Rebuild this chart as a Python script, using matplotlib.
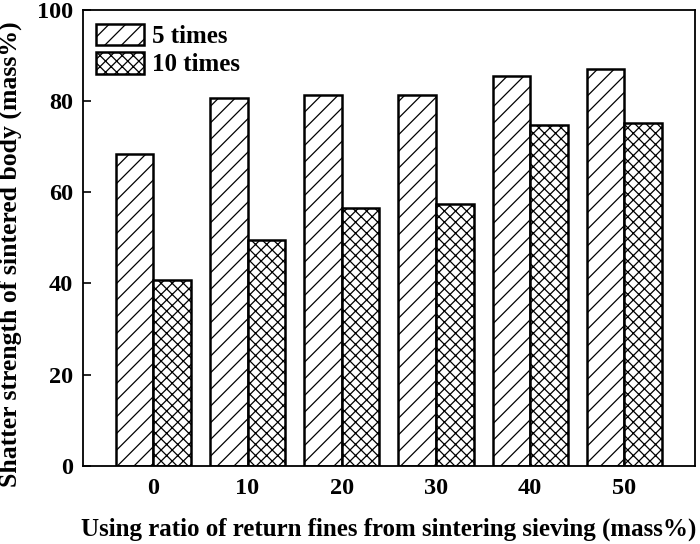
import matplotlib
matplotlib.use("Agg")
import matplotlib.pyplot as plt
import numpy as np

categories = ["0", "10", "20", "30", "40", "50"]
five_times = [68.4, 80.6, 81.3, 81.3, 85.5, 87.0]
ten_times = [40.7, 49.5, 56.6, 57.5, 74.7, 75.3]
series_labels = ["5 times", "10 times"]
yticks = [0, 20, 40, 60, 80, 100]

plt.rcParams['font.family'] = ['Liberation Serif', 'DejaVu Serif']
plt.rcParams['font.weight'] = 'bold'
plt.rcParams['hatch.linewidth'] = 0.9

fig = plt.figure(figsize=(7.0, 5.44), dpi=100)
ax = fig.add_axes([0.118, 0.144, 0.875, 0.8376])

x = np.arange(len(categories))
w = 0.4
ax.bar(x - w/2, five_times, width=w, facecolor='white', edgecolor='black',
       linewidth=1.8, hatch='//', label=series_labels[0])
ax.bar(x + w/2, ten_times, width=w, facecolor='white', edgecolor='black',
       linewidth=1.8, hatch='xxx', label=series_labels[1])

ax.set_xlim(-0.75, 5.75)
ax.set_ylim(0, 100)
ax.set_xticks(x)
ax.set_xticklabels(categories)
ax.set_yticks(yticks)
ax.tick_params(axis='y', direction='in', length=6, width=1.2, labelsize=17.5, pad=7)
ax.tick_params(axis='x', length=0, labelsize=17.5, pad=9)
for s in ax.spines.values():
    s.set_linewidth(1.3)

ax.set_ylabel("Shatter strength of sintered body (mass%)", fontsize=18.5, fontweight='bold')
ax.yaxis.set_label_coords(-0.099, 0.465)
ax.set_xlabel("Using ratio of return fines from sintering sieving (mass%)", fontsize=18, fontweight='bold')
ax.xaxis.set_label_coords(0.5, -0.115)

leg = ax.legend(loc='upper left', frameon=False, fontsize=18, handlelength=1.92,
                handleheight=0.96, labelspacing=0.15, handletextpad=0.3,
                borderaxespad=0.25, borderpad=0.3)

fig.savefig("out.png", dpi=100)
